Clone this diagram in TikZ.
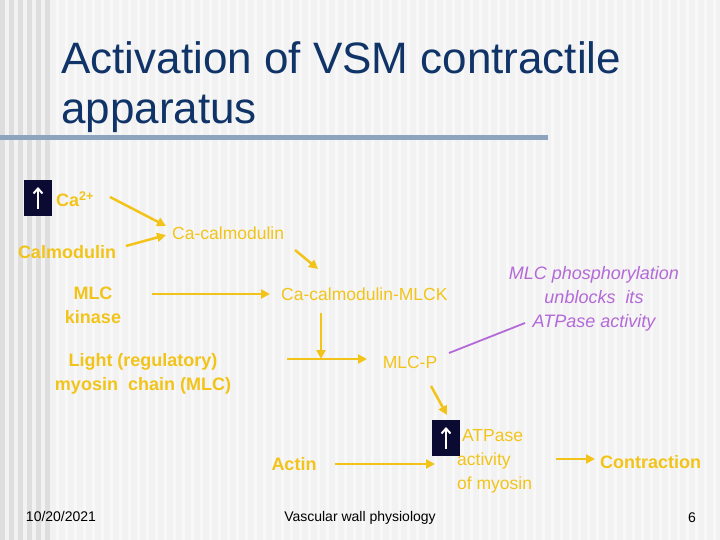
\documentclass[tikz,border=0pt]{standalone}
\usepackage{fontspec}
\setmainfont{Liberation Sans}
\usetikzlibrary{arrows.meta}
\definecolor{bg}{RGB}{242,242,242}
\definecolor{band}{RGB}{222,222,222}
\definecolor{ttl}{RGB}{16,52,104}
\definecolor{barc}{RGB}{140,164,190}
\definecolor{yel}{RGB}{242,196,26}
\definecolor{pur}{RGB}{180,105,216}
\definecolor{navy}{RGB}{10,10,50}
\begin{document}
\begin{tikzpicture}[x=1pt,y=-1pt,
  yb/.style={text=yel,font=\bfseries\fontsize{18}{24}\selectfont,align=center,inner sep=1pt},
  yt/.style={text=yel,font=\fontsize{17.5}{24}\selectfont,align=center,inner sep=1pt},
  ar/.style={yel,line width=2.5pt,-{Triangle[length=9pt,width=9pt]}},
  upbox/.style={fill=navy,minimum width=28pt,minimum height=36pt,inner sep=0pt}]
\fill[bg] (0,0) rectangle (720,540);
\foreach \i in {0,...,5}{\fill[band] (\i*9,0) rectangle (\i*9+5,540);}
\foreach \i in {6,...,79}{\fill[white,opacity=0.5] (\i*9+2,0) rectangle (\i*9+5,540);}
\node[anchor=base west,text=ttl,font=\fontsize{44}{48}\selectfont,inner sep=0] (t1) at (61,74) {Activation of VSM contractile};
\node[anchor=base west,text=ttl,font=\fontsize{44}{48}\selectfont,inner sep=0] (t2) at (61,124) {apparatus};
\fill[barc] (0,135) rectangle (548,140);
\node[upbox] (b1) at (38,198) {};
\draw[white,line width=2pt,-{Straight Barb[length=5pt,width=9pt]}] ([yshift=-11pt]b1.center) -- ([yshift=11pt]b1.center);
\node[yb,anchor=west] (ca) at (55,199) {Ca\textsuperscript{2+}};
\node[yb] (calm) at (67,252) {Calmodulin};
\node[yt,anchor=west] (cacalm) at (171,233) {Ca-calmodulin};
\node[yb] (mlck) at (93,305) {MLC\\kinase};
\node[yt,anchor=west] (ccm) at (280,294) {Ca-calmodulin-MLCK};
\node[yb] (light) at (143,374) {Light (regulatory)\\myosin\ \ chain (MLC)};
\node[yt] (mlcp) at (410,362) {MLC-P};
\node[text=pur,font=\itshape\fontsize{18}{24}\selectfont,align=center] (note) at (594,299) {MLC phosphorylation\\unblocks\ \ its\\ATPase activity};
\node[upbox] (b2) at (446,438) {};
\draw[white,line width=2pt,-{Straight Barb[length=5pt,width=9pt]}] ([yshift=-11pt]b2.center) -- ([yshift=11pt]b2.center);
\node[yt,align=left,anchor=north west] (atp) at (456,428) {\ ATPase\\activity\\of myosin};
\node[yb] (actin) at (294,464) {Actin};
\node[yb,anchor=west] (contr) at (599,462) {Contraction};
\node[font=\fontsize{14}{16}\selectfont] (date) at (61,516) {10/20/2021};
\node[font=\fontsize{14}{16}\selectfont] (foot) at (360,518) {Vascular wall physiology};
\node[font=\fontsize{14}{16}\selectfont] (pg) at (692,518) {6};
\coordinate (j) at (321,359);
\coordinate (l) at (287,359);
\draw[ar] (110,197) -- (166,226);
\draw[ar] (126,246) -- (166,235);
\draw[ar] (295,250) -- (318,269);
\draw[ar] (152,294) -- (270,294);
\draw[ar] (321,313) -- (j);
\draw[ar] (l) -- (367,359);
\draw[pur,line width=1.8pt] (449,353) -- (525,323);
\draw[ar] (431,386) -- (447,415);
\draw[ar] (335,464) -- (435,464);
\draw[ar] (556,459) -- (595,459);
\end{tikzpicture}
\end{document}
